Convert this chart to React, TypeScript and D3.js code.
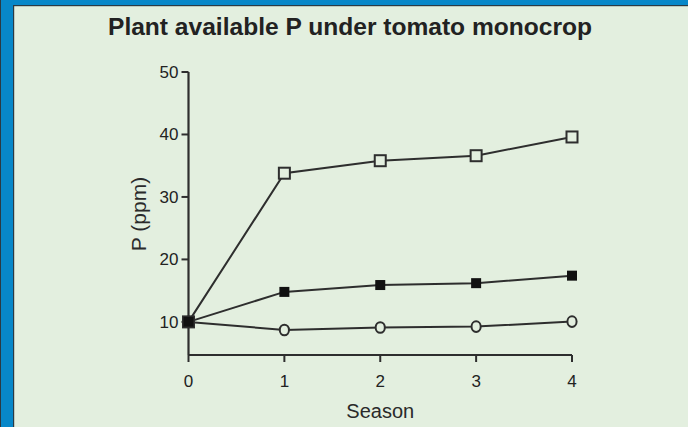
import React from "react";
import * as d3 from "d3";

// Season index on the x axis
const seasons = [0, 1, 2, 3, 4];
// Plant available P (ppm) per treatment
const pOpenSquare = [10, 33.8, 35.8, 36.6, 39.6];
const pFilledSquare = [10, 14.8, 15.9, 16.2, 17.4];
const pOpenCircle = [10, 8.7, 9.1, 9.25, 10.05];
const yTicks = [10, 20, 30, 40, 50];
const xTicks = [0, 1, 2, 3, 4];

const W = 688;
const H = 427;
const BG = "#e3efdf";
const INK = "#2e2e2e";
const FONT = "'Liberation Sans', Arial, Helvetica, sans-serif";

export default function App() {
  const x = d3.scaleLinear().domain([0, 4]).range([188.5, 572]);
  const y = d3.scaleLinear().domain([4.7, 50]).range([355, 72]);

  const line = d3
    .line<number>()
    .x((_, i) => x(seasons[i]))
    .y((d) => y(d));

  const series = [
    { values: pOpenCircle, kind: "circle" },
    { values: pOpenSquare, kind: "openSquare" },
    { values: pFilledSquare, kind: "filledSquare" },
  ];

  const x0 = x(0);
  const yAxisY = y(4.7);

  return (
    <svg
      width={W}
      height={H}
      style={{ position: "absolute", left: 0, top: 0, display: "block" }}
      fontFamily={FONT}
    >
      <rect x={0} y={0} width={W} height={H} fill={BG} />
      {/* frame */}
      <rect x={0} y={0} width={W} height={6} fill="#0787c9" />
      <rect x={0} y={5} width={W} height={1.2} fill="#2a3a44" />
      <rect x={0} y={0} width={14} height={H} fill="#0787c9" />
      <rect x={0} y={0} width={1} height={H} fill="#2a3a44" />
      <rect x={13} y={5} width={1.2} height={H} fill="#2a3a44" />

      <text
        x={350}
        y={35}
        textAnchor="middle"
        fontSize={24}
        fontWeight="bold"
        fill="#222"
        textLength={484}
        lengthAdjust="spacingAndGlyphs"
      >
        Plant available P under tomato monocrop
      </text>

      {/* y axis */}
      <line x1={x0} x2={x0} y1={y(50)} y2={yAxisY} stroke={INK} strokeWidth={2.2} />
      {yTicks.map((t) => (
        <g key={"yt" + t}>
          <line x1={x0 - 7} x2={x0} y1={y(t)} y2={y(t)} stroke={INK} strokeWidth={2} />
          <text
            x={x0 - 10}
            y={y(t)}
            dy="0.35em"
            textAnchor="end"
            fontSize={17}
            fill="#222"
          >
            {t}
          </text>
        </g>
      ))}

      {/* x axis */}
      <line x1={x0} x2={x(4)} y1={yAxisY} y2={yAxisY} stroke={INK} strokeWidth={2.2} />
      {xTicks.map((t) => (
        <g key={"xt" + t}>
          <line x1={x(t)} x2={x(t)} y1={yAxisY} y2={yAxisY + 7} stroke={INK} strokeWidth={2} />
          <text x={x(t)} y={387} textAnchor="middle" fontSize={17} fill="#222">
            {t}
          </text>
        </g>
      ))}

      <text x={x(2)} y={418} textAnchor="middle" fontSize={20} fill="#2a2a2a">
        Season
      </text>
      <text
        transform={`translate(146,214) rotate(-90)`}
        textAnchor="middle"
        fontSize={21}
        fill="#2a2a2a"
      >
        P (ppm)
      </text>

      {/* lines */}
      {series.map((s, si) => (
        <path key={"l" + si} d={line(s.values) ?? ""} fill="none" stroke={INK} strokeWidth={2} />
      ))}

      {/* markers */}
      {series.map((s, si) =>
        s.values.map((v, i) => {
          const cx = x(seasons[i]);
          const cy = y(v);
          if (s.kind === "circle") {
            return (
              <ellipse
                key={`m${si}-${i}`}
                cx={cx}
                cy={cy}
                rx={4.6}
                ry={5.3}
                fill={BG}
                stroke={INK}
                strokeWidth={2}
              />
            );
          }
          if (s.kind === "openSquare") {
            return (
              <rect
                key={`m${si}-${i}`}
                x={cx - 5.5}
                y={cy - 5.5}
                width={11}
                height={11}
                fill={BG}
                stroke={INK}
                strokeWidth={2}
              />
            );
          }
          return (
            <rect
              key={`m${si}-${i}`}
              x={cx - 5}
              y={cy - 5}
              width={10}
              height={10}
              fill="#111"
            />
          );
        })
      )}
    </svg>
  );
}
